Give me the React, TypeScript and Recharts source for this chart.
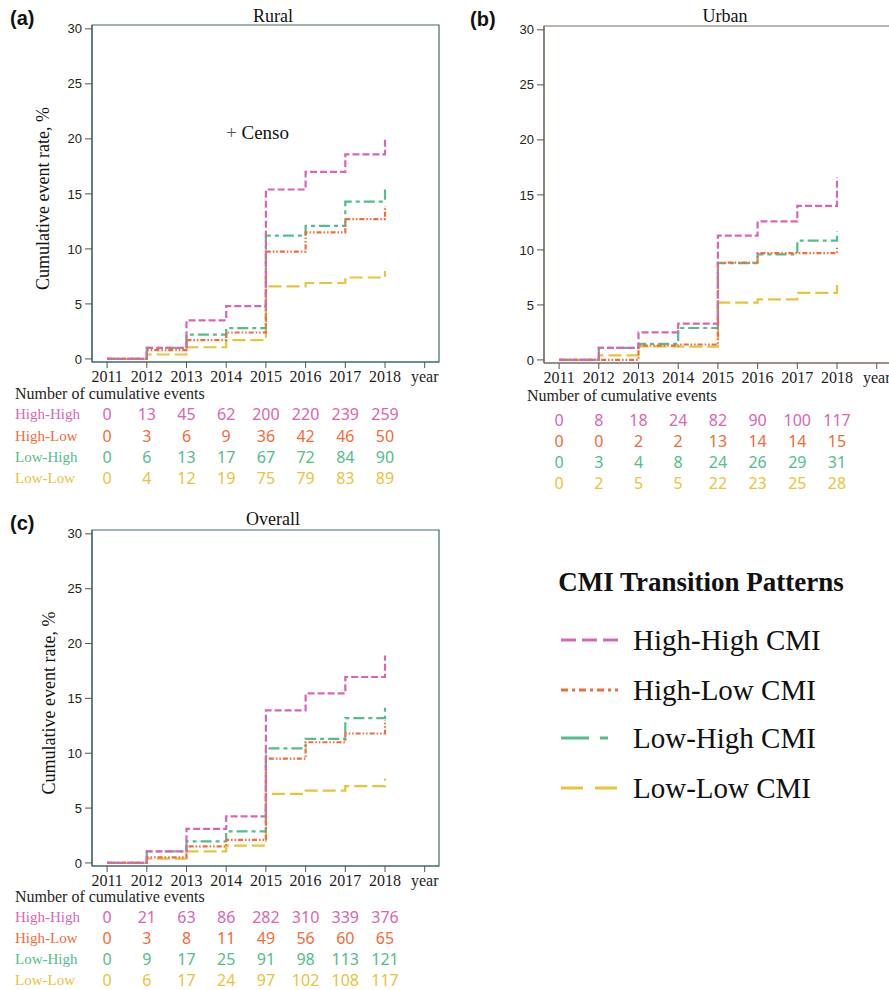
import React from "react";
import { LineChart, Line, XAxis, YAxis, ReferenceArea } from "recharts";

const SERIF = "'Liberation Serif', 'Times New Roman', serif";
const SANS = "'Liberation Sans', Arial, sans-serif";
const NUMF = "'Noto Sans', sans-serif";

const years = [2011, 2012, 2013, 2014, 2015, 2016, 2017, 2018];
const xTicks = [2011, 2012, 2013, 2014, 2015, 2016, 2017, 2018, 2019];
const yTicks = [0, 5, 10, 15, 20, 25, 30];
const rowLabels = ["High-High", "High-Low", "Low-High", "Low-Low"];
const X_DOMAIN = [2010.62, 2019.36];
const Y_DOMAIN = [-0.28, 30.35];

// cumulative event rate, % (last value = end of follow-up at 2018)
const ruralHH = [0, 1.0, 3.5, 4.8, 15.4, 17.0, 18.6, 20.2];
const ruralHL = [0, 0.8, 1.7, 2.4, 9.75, 11.5, 12.7, 13.9];
const ruralLH = [0, 1.0, 2.2, 2.8, 11.2, 12.1, 14.3, 15.4];
const ruralLL = [0, 0.4, 1.06, 1.7, 6.6, 6.9, 7.4, 8.0];

const urbanHH = [0, 1.1, 2.5, 3.3, 11.3, 12.6, 14.0, 16.6];
const urbanHL = [0, 0, 1.3, 1.4, 8.85, 9.7, 9.7, 10.3];
const urbanLH = [0, 1.1, 1.45, 2.9, 8.8, 9.6, 10.85, 11.7];
const urbanLL = [0, 0.42, 1.23, 1.2, 5.2, 5.5, 6.1, 6.8];

const overallHH = [0, 1.05, 3.1, 4.24, 13.9, 15.45, 16.95, 18.9];
const overallHL = [0, 0.5, 1.5, 2.1, 9.5, 11.0, 11.8, 13.0];
const overallLH = [0, 1.05, 1.96, 2.87, 10.45, 11.3, 13.2, 14.2];
const overallLL = [0, 0.39, 1.05, 1.57, 6.3, 6.6, 7.0, 7.7];

// number of cumulative events
const ruralCountHH = [0, 13, 45, 62, 200, 220, 239, 259];
const ruralCountHL = [0, 3, 6, 9, 36, 42, 46, 50];
const ruralCountLH = [0, 6, 13, 17, 67, 72, 84, 90];
const ruralCountLL = [0, 4, 12, 19, 75, 79, 83, 89];

const urbanCountHH = [0, 8, 18, 24, 82, 90, 100, 117];
const urbanCountHL = [0, 0, 2, 2, 13, 14, 14, 15];
const urbanCountLH = [0, 3, 4, 8, 24, 26, 29, 31];
const urbanCountLL = [0, 2, 5, 5, 22, 23, 25, 28];

const overallCountHH = [0, 21, 63, 86, 282, 310, 339, 376];
const overallCountHL = [0, 3, 8, 11, 49, 56, 60, 65];
const overallCountLH = [0, 9, 17, 25, 91, 98, 113, 121];
const overallCountLL = [0, 6, 17, 24, 97, 102, 108, 117];

const SERIES = [
  { key: "hh", name: "High-High CMI", color: "#d966b3", dash: "7 3", legendDash: "15 6" },
  { key: "hl", name: "High-Low CMI", color: "#f26b3a", dash: "5 2 1.5 2 1.5 2", legendDash: "7 4 3 4" },
  { key: "lh", name: "Low-High CMI", color: "#52be8c", dash: "11 4 4 4", legendDash: "28 11 8 11" },
  { key: "ll", name: "Low-Low CMI", color: "#e8c33d", dash: "13 5", legendDash: "22 12" },
];

function buildRows(hh: number[], hl: number[], lh: number[], ll: number[]) {
  return years.map((year, i) => ({ year, hh: hh[i], hl: hl[i], lh: lh[i], ll: ll[i] }));
}

type PanelProps = {
  letter: string;
  letterX: number;
  title: string;
  titleTop: number;
  left: number;
  top: number;
  plotH: number;
  border: string;
  rows: any[];
  counts: number[][];
  rowY: number[];
  numY: number;
  yLabelX?: number;
  showRowLabels: boolean;
  censo?: boolean;
};

function Panel(p: PanelProps) {
  const width = 450;
  const height = 495;
  const mTop = 25;
  const xAxisH = height - mTop - p.plotH;
  const plotBottom = mTop + p.plotH;

  const renderTick = (props: any) => {
    const { x, y, payload } = props;
    const base = y - 6;
    const i = years.indexOf(payload.value);
    return (
      <g>
        <text
          x={x}
          y={base + 14}
          textAnchor="middle"
          dominantBaseline="central"
          fontFamily={SERIF}
          fontSize={16}
          fill="#222"
        >
          {i < 0 ? "year" : payload.value}
        </text>
        {i >= 0 &&
          SERIES.map((s, k) => (
            <text
              key={s.key}
              x={x}
              y={base + p.rowY[k]}
              textAnchor="middle"
              dominantBaseline="central"
              fontFamily={NUMF}
              fontSize={16}
              fill={s.color}
            >
              {p.counts[k][i]}
            </text>
          ))}
      </g>
    );
  };

  return (
    <div style={{ position: "absolute", left: p.left, top: p.top, width, height }}>
      <div
        style={{
          position: "absolute",
          left: p.letterX,
          top: 6,
          fontFamily: SANS,
          fontWeight: "bold",
          fontSize: 20,
          lineHeight: "24px",
          color: "#111",
        }}
      >
        {p.letter}
      </div>
      <div
        style={{
          position: "absolute",
          left: 92,
          width: 362,
          top: p.titleTop,
          textAlign: "center",
          fontFamily: SERIF,
          fontSize: 18,
          lineHeight: "20px",
          color: "#111",
        }}
      >
        {p.title}
      </div>
      {p.censo && (
        <div
          style={{
            position: "absolute",
            left: 226,
            top: 122,
            fontFamily: SERIF,
            fontSize: 19,
            color: "#111",
            whiteSpace: "nowrap",
          }}
        >
          <span style={{ color: "#555" }}>+</span> Censo
        </div>
      )}
      <div
        style={{
          position: "absolute",
          left: p.showRowLabels ? 15 : 75,
          top: plotBottom + p.numY - 9,
          fontFamily: SERIF,
          fontSize: 16,
          lineHeight: "18px",
          color: "#222",
          whiteSpace: "nowrap",
        }}
      >
        Number of cumulative events
      </div>
      {p.showRowLabels &&
        SERIES.map((s, k) => (
          <div
            key={s.key}
            style={{
              position: "absolute",
              left: 15,
              top: plotBottom + p.rowY[k] - 9,
              fontFamily: SERIF,
              fontSize: 15,
              lineHeight: "18px",
              color: s.color,
              whiteSpace: "nowrap",
            }}
          >
            {rowLabels[k]}
          </div>
        ))}
      <LineChart
        width={width}
        height={height}
        data={p.rows}
        margin={{ top: mTop, right: 11, left: 0, bottom: 0 }}
      >
        <XAxis
          dataKey="year"
          type="number"
          domain={X_DOMAIN}
          ticks={xTicks}
          allowDataOverflow
          height={xAxisH}
          tickSize={6}
          tickMargin={0}
          axisLine={{ stroke: p.border, strokeWidth: 1.2 }}
          tickLine={{ stroke: "#555" }}
          tick={renderTick}
          interval={0}
        />
        <YAxis
          type="number"
          domain={Y_DOMAIN}
          ticks={yTicks}
          allowDataOverflow
          width={92}
          tickSize={7}
          tickMargin={3}
          axisLine={{ stroke: p.border, strokeWidth: 1.2 }}
          tickLine={{ stroke: "#555" }}
          tick={{ fontSize: 13, fontFamily: SANS, fill: "#222" }}
          interval={0}
          label={
            p.yLabelX !== undefined
              ? {
                  content: () => (
                    <text
                      x={p.yLabelX}
                      y={mTop + p.plotH / 2 + 5}
                      transform={`rotate(-90 ${p.yLabelX} ${mTop + p.plotH / 2 + 5})`}
                      textAnchor="middle"
                      dominantBaseline="central"
                      fontFamily={SERIF}
                      fontSize={18}
                      fill="#111"
                    >
                      Cumulative event rate, %
                    </text>
                  ),
                }
              : undefined
          }
        />
        <ReferenceArea
          x1={X_DOMAIN[0]}
          x2={X_DOMAIN[1]}
          y1={Y_DOMAIN[0]}
          y2={Y_DOMAIN[1]}
          fill="none"
          fillOpacity={0}
          stroke={p.border}
          strokeWidth={1.2}
          ifOverflow="visible"
        />
        {[...SERIES].reverse().map((s) => (
          <Line
            key={s.key}
            type="stepAfter"
            dataKey={s.key}
            stroke={s.color}
            strokeWidth={2.2}
            strokeDasharray={s.dash}
            dot={false}
            activeDot={false}
            isAnimationActive={false}
          />
        ))}
      </LineChart>
    </div>
  );
}

function LegendBox() {
  const ys = [640, 690, 738, 788];
  return (
    <svg
      width={889}
      height={990}
      style={{ position: "absolute", left: 0, top: 0, pointerEvents: "none" }}
    >
      <text
        x={701}
        y={582}
        textAnchor="middle"
        dominantBaseline="central"
        fontFamily={SERIF}
        fontWeight="bold"
        fontSize={27}
        fill="#111"
      >
        CMI Transition Patterns
      </text>
      {SERIES.map((s, k) => (
        <g key={s.key}>
          <line
            x1={561}
            x2={618}
            y1={ys[k]}
            y2={ys[k]}
            stroke={s.color}
            strokeWidth={3}
            strokeDasharray={s.legendDash}
          />
          <text
            x={633}
            y={ys[k]}
            dominantBaseline="central"
            fontFamily={SERIF}
            fontSize={29}
            fill="#111"
          >
            {s.name}
          </text>
        </g>
      ))}
    </svg>
  );
}

export default function App() {
  const rural = buildRows(ruralHH, ruralHL, ruralLH, ruralLL);
  const urban = buildRows(urbanHH, urbanHL, urbanLH, urbanLL);
  const overall = buildRows(overallHH, overallHL, overallLH, overallLL);
  return (
    <div
      style={{
        position: "fixed",
        left: 0,
        top: 0,
        width: 889,
        height: 990,
        overflow: "hidden",
        background: "#fff",
      }}
    >
      <Panel
        letter="(a)"
        letterX={10}
        title="Rural"
        titleTop={6}
        left={0}
        top={0}
        plotH={337}
        border="#3f6a6a"
        rows={rural}
        counts={[ruralCountHH, ruralCountHL, ruralCountLH, ruralCountLL]}
        rowY={[52, 74, 95, 116]}
        numY={32}
        yLabelX={43}
        showRowLabels
        censo
      />
      <Panel
        letter="(b)"
        letterX={18}
        title="Urban"
        titleTop={5}
        left={452}
        top={1}
        plotH={337}
        border="#7a6a60"
        rows={urban}
        counts={[urbanCountHH, urbanCountHL, urbanCountLH, urbanCountLL]}
        rowY={[57, 78, 99, 120]}
        numY={33}
        showRowLabels={false}
      />
      <Panel
        letter="(c)"
        letterX={10}
        title="Overall"
        titleTop={4}
        left={0}
        top={505}
        plotH={336}
        border="#3f6a6a"
        rows={overall}
        counts={[overallCountHH, overallCountHL, overallCountLH, overallCountLL]}
        rowY={[51, 72, 93, 114]}
        numY={31}
        yLabelX={49}
        showRowLabels
      />
      <LegendBox />
    </div>
  );
}
